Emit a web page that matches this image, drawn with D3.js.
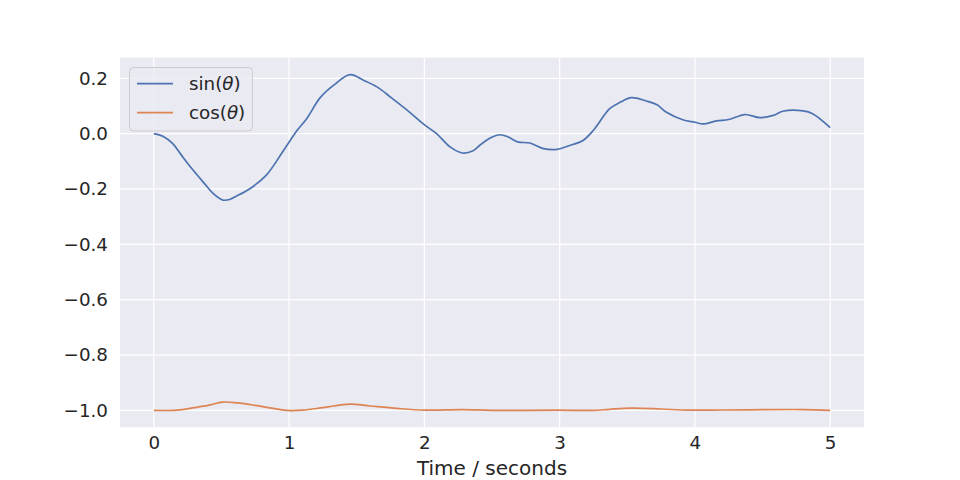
<!DOCTYPE html>
<html><head><meta charset="utf-8">
<script src="https://cdn.jsdelivr.net/npm/d3@7"></script>
<style>body{margin:0;background:#fff;} text{font-family:"DejaVu Sans",sans-serif;fill:#262626;}</style>
</head><body>
<svg id="c" width="960" height="480"></svg>
<script>
const sinTime = [0,0.07,0.14,0.2,0.27,0.37,0.44,0.51,0.56,0.61,0.71,0.83,0.96,1.06,1.13,1.23,1.33,1.45,1.55,1.65,1.75,1.89,1.99,2.09,2.19,2.28,2.36,2.41,2.49,2.56,2.62,2.69,2.78,2.88,2.98,3.08,3.17,3.25,3.37,3.45,3.53,3.64,3.72,3.79,3.91,4.0,4.06,4.16,4.25,4.37,4.48,4.58,4.65,4.8,4.87,5.0];
const sinValues = [0,-0.01,-0.036,-0.075,-0.12,-0.178,-0.217,-0.24,-0.238,-0.226,-0.199,-0.151,-0.06,0.012,0.054,0.13,0.175,0.213,0.193,0.169,0.132,0.078,0.036,0.0,-0.048,-0.07,-0.062,-0.042,-0.015,-0.004,-0.012,-0.03,-0.034,-0.054,-0.057,-0.042,-0.026,0.012,0.09,0.114,0.13,0.118,0.104,0.077,0.05,0.041,0.035,0.046,0.051,0.069,0.058,0.066,0.081,0.082,0.072,0.022];
const cosTime = [0,0.17,0.3,0.4,0.51,0.62,0.75,0.87,0.98,1.1,1.25,1.45,1.6,1.8,2.0,2.28,2.5,2.98,3.25,3.37,3.53,3.75,3.95,4.37,4.8,5.0];
const cosValues = [-1.0,-0.999,-0.99,-0.982,-0.97,-0.973,-0.982,-0.992,-1.0,-0.999,-0.99,-0.977,-0.984,-0.993,-0.999,-0.997,-1.0,-0.999,-1.0,-0.996,-0.992,-0.995,-0.999,-0.998,-0.997,-1.0];
const xTicks = [0,1,2,3,4,5];
const yTicks = [0.2,0.0,-0.2,-0.4,-0.6,-0.8,-1.0];
const seriesNames = ["sin", "cos"];
const xLabel = "Time / seconds";

const svg = d3.select("#c");
const L=120, R=864, T=57.6, B=427.2;
const x = d3.scaleLinear().domain([-0.25,5.25]).range([L,R]);
const y = d3.scaleLinear().domain([-1.0607,0.2747]).range([B,T]);

svg.append("rect").attr("x",L).attr("y",T).attr("width",R-L).attr("height",B-T).attr("fill","#eaeaf2");

const g = svg.append("g");
g.selectAll(".vg").data(xTicks).join("line").attr("x1",d=>x(d)).attr("x2",d=>x(d)).attr("y1",T).attr("y2",B).attr("stroke","#fff").attr("stroke-width",1.25);
g.selectAll(".hg").data(yTicks).join("line").attr("y1",d=>y(d)).attr("y2",d=>y(d)).attr("x1",L).attr("x2",R).attr("stroke","#fff").attr("stroke-width",1.25);

const fmtY = d => (d<0?"\u2212":"") + Math.abs(d).toFixed(1);
const fs = "18.3px";
svg.append("g").attr("transform",`translate(0,${B})`)
  .call(d3.axisBottom(x).tickValues(xTicks).tickSize(0).tickPadding(9).tickFormat(d3.format("d")))
  .call(a=>{a.select(".domain").remove(); a.selectAll("text").attr("font-size",fs).attr("fill","#262626").attr("font-family","DejaVu Sans");});
svg.append("g").attr("transform",`translate(${L},0)`)
  .call(d3.axisLeft(y).tickValues(yTicks).tickSize(0).tickPadding(12).tickFormat(fmtY))
  .call(a=>{a.select(".domain").remove(); a.selectAll("text").attr("font-size",fs).attr("fill","#262626").attr("font-family","DejaVu Sans");});

svg.append("text").attr("x",(L+R)/2).attr("y",475).attr("text-anchor","middle").attr("font-size","20px").text(xLabel);

const line = d3.line().x(d=>x(d[0])).y(d=>y(d[1])).curve(d3.curveCatmullRom.alpha(0.5));
svg.append("path").datum(sinTime.map((t,i)=>[t,sinValues[i]])).attr("d",line).attr("fill","none").attr("stroke","#4c72b0").attr("stroke-width",1.7);
svg.append("path").datum(cosTime.map((t,i)=>[t,cosValues[i]])).attr("d",line).attr("fill","none").attr("stroke","#dd8452").attr("stroke-width",1.7);

// legend
const lg = svg.append("g");
lg.append("rect").attr("x",129.5).attr("y",67.5).attr("width",123).attr("height",63.5).attr("rx",4)
  .attr("fill","#eaeaf2").attr("fill-opacity",0.8).attr("stroke","#cccccc").attr("stroke-width",1);
const colors = ["#4c72b0","#dd8452"];
seriesNames.forEach((n,i)=>{
  const yy = 83.7 + i*29;
  lg.append("line").attr("x1",137).attr("x2",173).attr("y1",yy).attr("y2",yy).attr("stroke",colors[i]).attr("stroke-width",1.7);
  const t = lg.append("text").attr("x",189).attr("y",yy+6.5).attr("font-size",fs);
  t.append("tspan").text(n+"(");
  t.append("tspan").attr("font-style","italic").text("\u03b8");
  t.append("tspan").text(")");
});
</script>
</body></html>
